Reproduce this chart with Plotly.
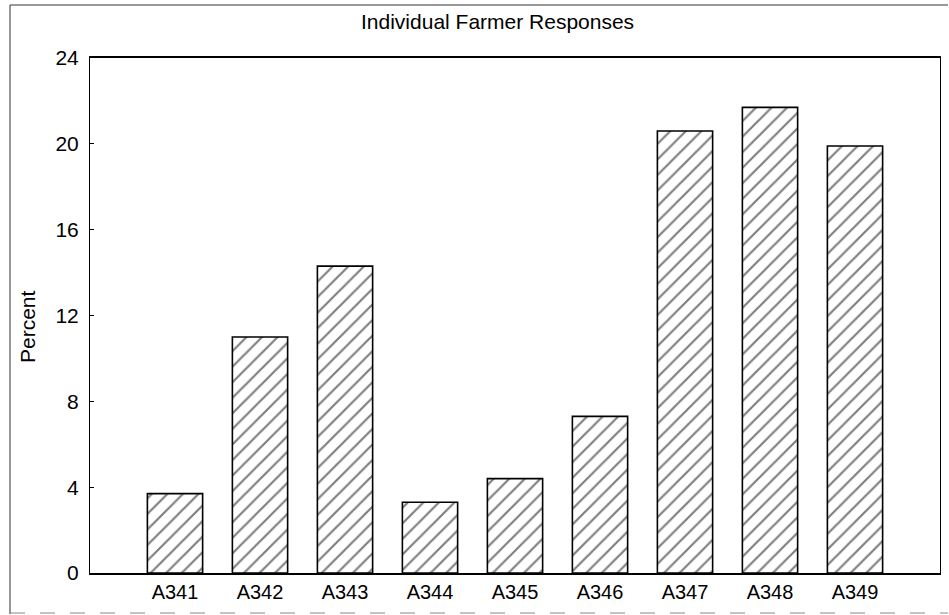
import plotly.graph_objects as go

# Survey response shares per item
categories = ["A341", "A342", "A343", "A344", "A345", "A346", "A347", "A348", "A349"]
percent = [3.7, 11.0, 14.3, 3.3, 4.4, 7.3, 20.6, 21.7, 19.9]
y_ticks = [0, 4, 8, 12, 16, 20, 24]

W, H = 949, 615
L, R, T, B = 90, 9, 58, 42
pw, ph = W - L - R, H - T - B


def px_x(x):
    return (x - L) / pw


def px_y(y):
    return (H - B - y) / ph


FONT = "Arial, 'Liberation Sans', Helvetica, sans-serif"

fig = go.Figure(
    go.Bar(
        x=categories,
        y=percent,
        width=0.65,
        marker=dict(
            color="white",
            line=dict(color="black", width=1.6),
            pattern=dict(shape="/", fgcolor="black", bgcolor="white",
                         size=11, solidity=0.2),
        ),
        hoverinfo="x+y",
    )
)

fig.update_layout(
    width=W, height=H,
    margin=dict(l=L, r=R, t=T, b=B),
    paper_bgcolor="white",
    plot_bgcolor="white",
    font=dict(family=FONT, size=20, color="black"),
    showlegend=False,
    xaxis=dict(
        type="category",
        range=[-1, 9],
        showline=True, linecolor="black", linewidth=1.5, mirror=True,
        showgrid=False, ticks="", zeroline=False,
        tickfont=dict(size=20),
    ),
    yaxis=dict(
        range=[0, 24],
        tickvals=y_ticks,
        ticktext=[str(v) for v in y_ticks],
        showline=True, linecolor="black", linewidth=1, mirror=True,
        showgrid=False, zeroline=False,
        ticks="inside", ticklen=4, tickcolor="black",
        tickfont=dict(size=21),
        ticklabelstandoff=6,
    ),
    annotations=[
        dict(text="Individual Farmer Responses", xref="paper", yref="paper",
             x=px_x(497), y=px_y(21), showarrow=False,
             xanchor="center", yanchor="middle", font=dict(size=21)),
        dict(text="Percent", xref="paper", yref="paper",
             x=px_x(27), y=px_y(327), showarrow=False, textangle=-90,
             xanchor="center", yanchor="middle", font=dict(size=21)),
    ],
    shapes=[
        # outer frame around the whole chart
        dict(type="line", xref="paper", yref="paper",
             x0=px_x(10), x1=px_x(10), y0=px_y(5), y1=px_y(614),
             line=dict(color="#333", width=1)),
        dict(type="line", xref="paper", yref="paper",
             x0=px_x(10), x1=px_x(948), y0=px_y(5), y1=px_y(5),
             line=dict(color="#333", width=1)),
        dict(type="line", xref="paper", yref="paper",
             x0=px_x(10), x1=px_x(948), y0=px_y(613), y1=px_y(613),
             line=dict(color="#888", width=1, dash="longdash")),
    ],
)

fig.write_html("out.html")
